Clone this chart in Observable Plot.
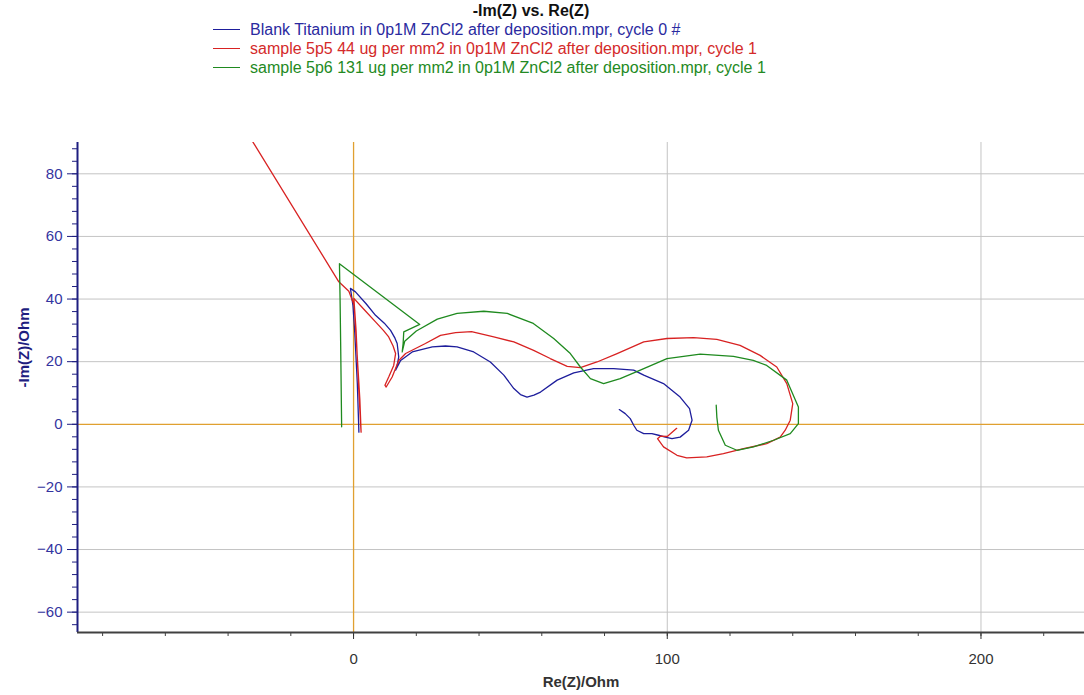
<!DOCTYPE html>
<html>
<head>
<meta charset="utf-8">
<script src="https://cdn.jsdelivr.net/npm/d3@7"></script>
<script src="https://cdn.jsdelivr.net/npm/@observablehq/plot@0.6"></script>
<style>
  html, body { margin: 0; padding: 0; background: #fff; }
  body { width: 1084px; height: 695px; overflow: hidden; font-family: "Liberation Sans", Arial, sans-serif; }
  #header { position: relative; height: 100px; }
  #title { position: absolute; top: 2px; left: 421px; width: 220px; text-align: center; font-weight: bold; font-size: 16px; color: #111; }
  .row { position: absolute; left: 213px; height: 19px; font-size: 16px; white-space: nowrap; line-height: 19px; }
  .row .sw { display: inline-block; width: 27px; height: 0; border-top: 1px solid; vertical-align: middle; margin-right: 10px; position: relative; top: -1px; }
  #chart svg { display: block; }
</style>
</head>
<body>
<div id="header">
  <div id="title"></div>
  <div id="legend"></div>
</div>
<div id="chart"></div>
<script>
// ---- data ----
const chartTitle = "-Im(Z) vs. Re(Z)";
const xLabel = "Re(Z)/Ohm";
const yLabel = "-Im(Z)/Ohm";
const seriesNames = [
  "Blank Titanium in 0p1M ZnCl2 after deposition.mpr, cycle 0 #",
  "sample 5p5 44 ug per mm2 in 0p1M ZnCl2 after deposition.mpr, cycle 1",
  "sample 5p6 131 ug per mm2 in 0p1M ZnCl2 after deposition.mpr, cycle 1"
];
const seriesColors = ["#1e1e9c", "#d82222", "#1f8a1f"];
const legendTextColors = ["#2a2aa0", "#d42a2a", "#238a23"];

const blueRe = [1.7, 1.2, 0.4, -0.2, -1.0, 0.6, 4.0, 7.0, 9.8, 11.8, 13.2, 13.9, 14.4, 13.9, 13.4, 15.0, 18.7, 25.1, 29.3, 33.0, 38.3, 43.6, 47.9, 51.1, 53.2, 55.3, 57.5, 59.6, 64.9, 70.2, 76.5, 82.9, 89.3, 92.5, 98.8, 104.1, 107.1, 107.9, 106.8, 104.1, 101.5, 99.4, 97.2, 95.1, 92.5, 90.3, 89.3, 88.2, 86.6, 84.7];
const blueIm = [-2.5, 13.0, 29.0, 38.0, 43.4, 42.3, 38.5, 34.8, 32.3, 30.0, 27.5, 25.8, 21.5, 18.8, 17.3, 20.4, 23.1, 24.7, 25.0, 24.7, 23.1, 19.9, 15.7, 11.4, 9.5, 8.7, 9.3, 10.3, 14.1, 16.4, 17.8, 17.8, 17.3, 15.7, 13.0, 8.7, 5.0, 1.3, -1.9, -4.1, -4.6, -4.1, -3.5, -3.0, -3.0, -1.9, -0.3, 1.8, 3.4, 4.7];

const redRe = [-45, -4.7, -1.5, 0.2, 0.8, 1.4, 2.0, 2.4, 1.6, 0.8, 0.1, 3.5, 7.0, 9.5, 11.2, 12.6, 13.4, 12.8, 11.2, 10.0, 10.4, 12.3, 14.4, 16.6, 22.9, 27.7, 32.5, 37.6, 44.7, 51.1, 57.4, 62.7, 68.1, 72.3, 77.6, 84.0, 92.5, 99.9, 108.4, 115.8, 123.2, 129.6, 134.9, 138.1, 140.0, 139.2, 137.6, 136.0, 131.7, 124.3, 117.9, 112.6, 106.2, 103.1, 98.8, 96.9, 97.8, 100.0, 103.0];
const redIm = [111.2, 45.5, 42.5, 38.0, 28.0, 18.0, 8.0, -2.5, 12.0, 30.0, 40.2, 36.5, 32.7, 30.0, 27.9, 25.0, 22.6, 18.8, 15.1, 12.5, 11.9, 15.1, 20.4, 22.6, 25.8, 28.4, 29.3, 29.6, 27.9, 26.3, 23.6, 21.0, 18.5, 18.1, 19.9, 22.6, 26.3, 27.4, 27.7, 27.1, 25.2, 22.0, 18.3, 13.0, 6.6, 1.3, -1.9, -4.1, -6.2, -7.8, -9.4, -10.4, -10.7, -9.9, -7.2, -4.6, -3.8, -3.9, -1.3];

const greenRe = [-3.8, -4.1, -4.3, -4.5, 21.1, 16.0, 15.8, 15.5, 16.3, 20.0, 26.7, 33.0, 41.5, 49.0, 57.3, 63.8, 69.1, 72.3, 75.5, 79.7, 85.0, 91.4, 99.9, 110.5, 121.1, 127.4, 131.7, 138.1, 141.8, 141.8, 139.2, 133.9, 127.5, 122.2, 118.5, 116.3, 115.8, 115.6];
const greenIm = [-0.8, 24.7, 40.0, 51.3, 31.9, 29.5, 25.8, 23.1, 26.5, 29.8, 33.6, 35.4, 36.1, 35.4, 32.2, 27.4, 22.6, 18.3, 14.6, 13.0, 14.6, 17.3, 21.0, 22.4, 21.7, 20.4, 18.8, 14.1, 5.5, 0.2, -3.0, -5.1, -7.2, -8.3, -6.7, -1.9, 2.3, 6.1];

const xMajorTicks = [0, 100, 200];
const xMinorTicks = d3.range(-80, 232, 20);
const yMajorTicks = [-60, -40, -20, 0, 20, 40, 60, 80];
const yMinorTicks = d3.range(-64, 90, 4);
const xDomain = [-88, 233];
const yDomain = [-66.5, 90];

// ---- header ----
document.getElementById("title").textContent = chartTitle;
const legend = document.getElementById("legend");
seriesNames.forEach((name, i) => {
  const row = document.createElement("div");
  row.className = "row";
  row.style.top = (20 + i * 19) + "px";
  row.style.color = legendTextColors[i];
  const sw = document.createElement("span");
  sw.className = "sw";
  sw.style.borderTopColor = seriesColors[i];
  row.appendChild(sw);
  row.appendChild(document.createTextNode(name));
  legend.appendChild(row);
});

// ---- rows ----
const rows = [];
[[blueRe, blueIm], [redRe, redIm], [greenRe, greenIm]].forEach(([xs, ys], s) => {
  xs.forEach((x, i) => rows.push({series: seriesNames[s], re: x, im: ys[i]}));
});

const orange = "#e0a030";
const navy = "#1e1e80";
const grid = "#c4c4c4";

const plot = Plot.plot({
  width: 1084,
  height: 595,
  marginTop: 42,
  marginBottom: 63,
  marginLeft: 77,
  marginRight: 0,
  style: {fontFamily: "Liberation Sans, Arial, sans-serif", fontSize: "15px", background: "#fff"},
  x: {domain: xDomain, label: null},
  y: {domain: yDomain, label: null},
  color: {domain: seriesNames, range: seriesColors},
  marks: [
    Plot.gridY(yMajorTicks.filter(d => d !== 0), {stroke: grid, strokeOpacity: 1}),
    Plot.gridX(xMajorTicks.filter(d => d !== 0), {stroke: grid, strokeOpacity: 1}),
    Plot.ruleY([0], {stroke: orange, strokeWidth: 1.3}),
    Plot.ruleX([0], {stroke: orange, strokeWidth: 1.3}),
    Plot.line(rows, {x: "re", y: "im", z: "series", stroke: "series", strokeWidth: 1.3, clip: true}),
    Plot.axisY(yMinorTicks, {tickSize: 5, tickFormat: () => "", stroke: navy}),
    Plot.axisY(yMajorTicks, {tickSize: 10, tickPadding: 5, stroke: navy, fill: "#3434a0", label: null}),
    Plot.axisX(xMinorTicks, {tickSize: 4, tickFormat: () => "", stroke: "#404040"}),
    Plot.axisX(xMajorTicks, {tickSize: 7, tickPadding: 14, stroke: "#303030", fill: "#333", label: null}),
    Plot.ruleX([xDomain[0]], {stroke: navy, strokeWidth: 2}),
    Plot.ruleY([yDomain[0]], {stroke: "#404040", strokeWidth: 2}),
    Plot.text([yLabel], {frameAnchor: "left", dx: -53, rotate: -90, fontWeight: "bold", fill: navy, fontSize: 15}),
    Plot.text([xLabel], {frameAnchor: "bottom", dy: 54, fontWeight: "bold", fill: "#333", fontSize: 15})
  ]
});
document.getElementById("chart").appendChild(plot);
</script>
</body>
</html>
